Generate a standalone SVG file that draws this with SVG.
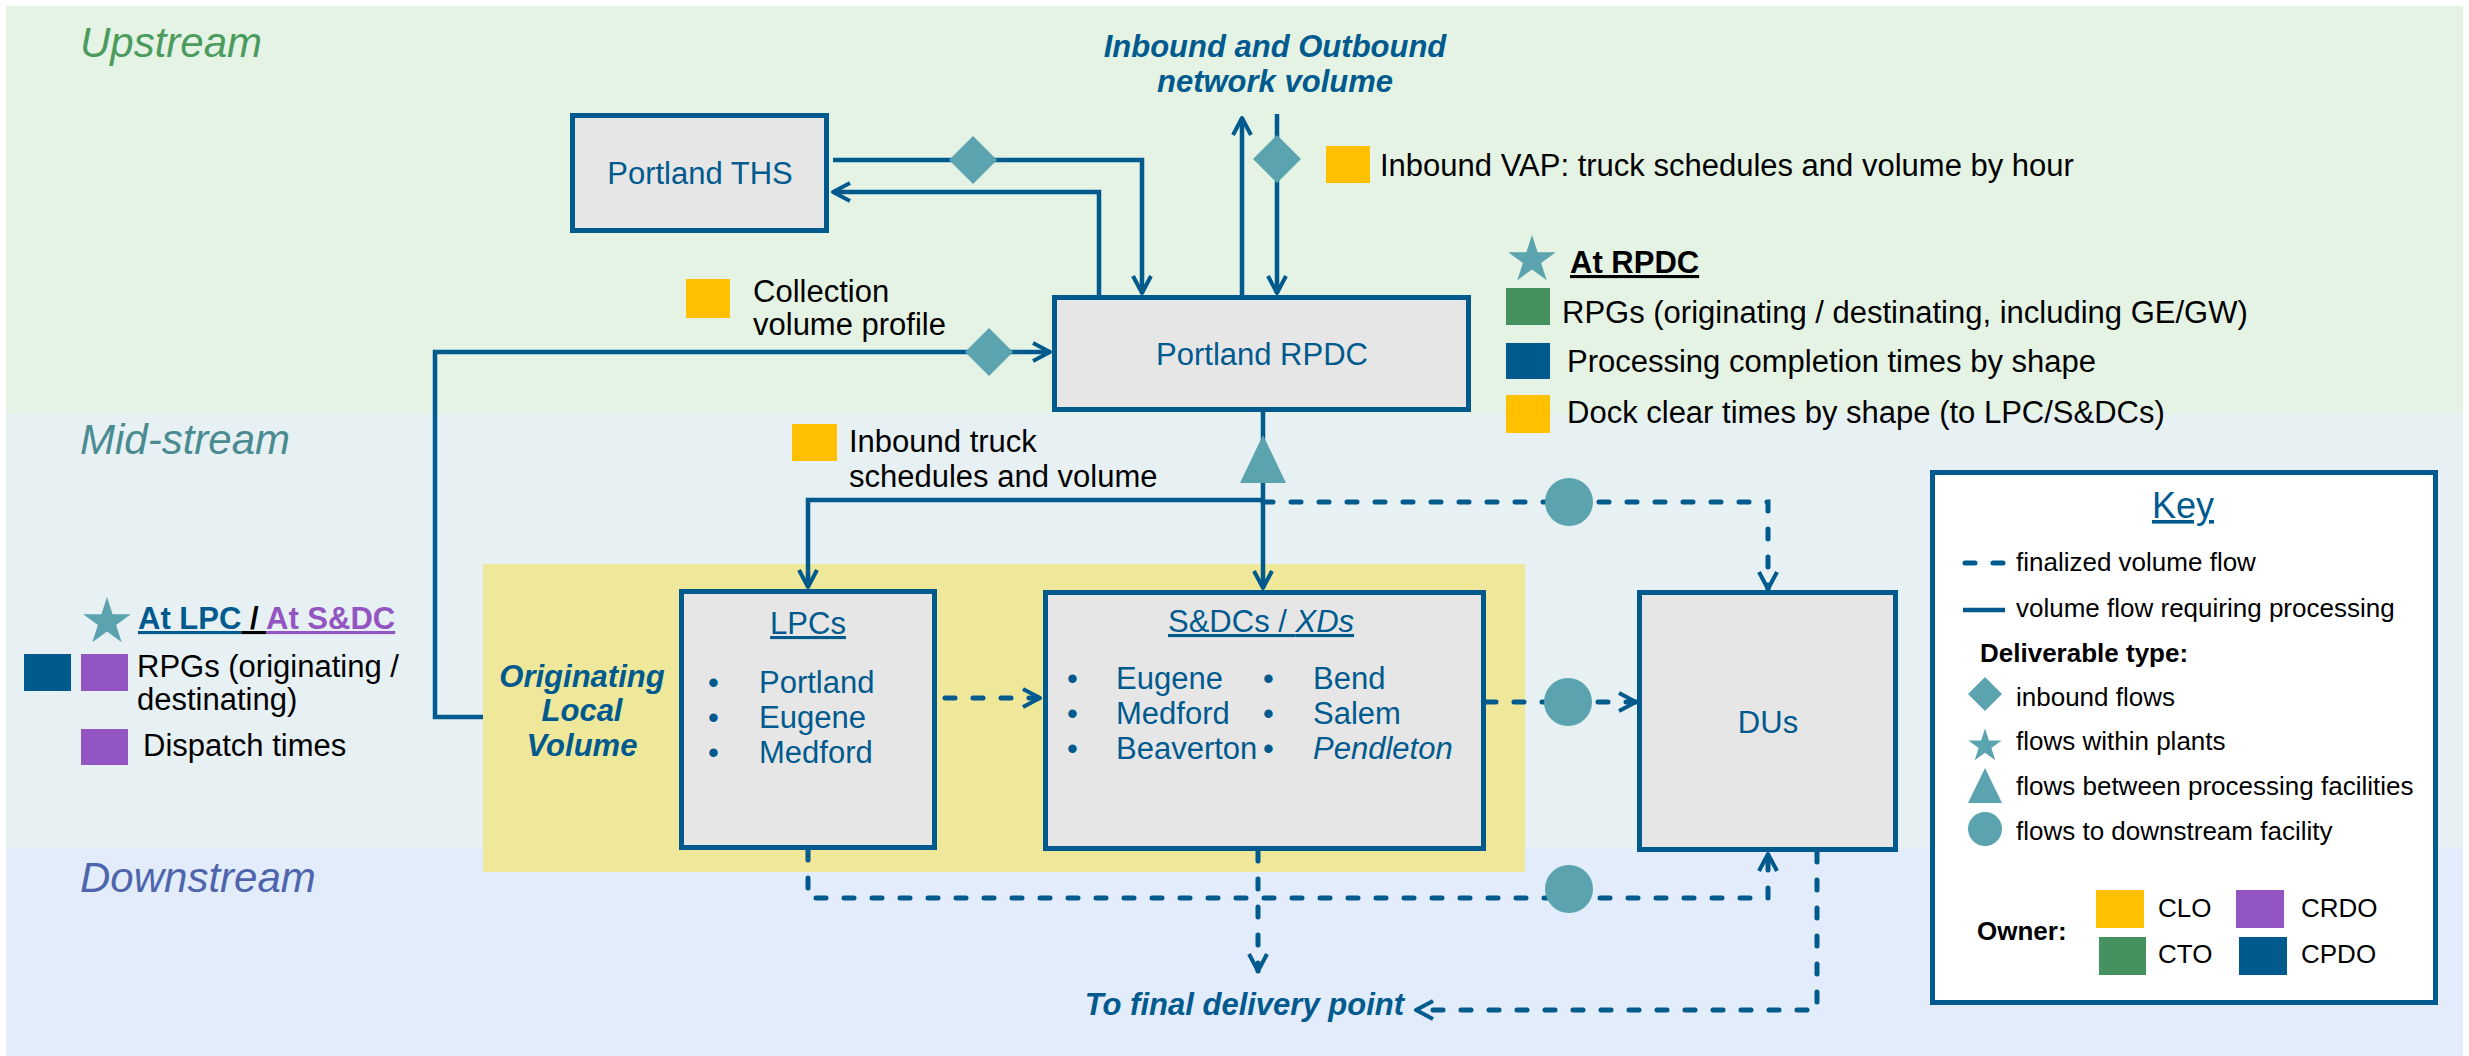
<svg xmlns="http://www.w3.org/2000/svg" width="2469" height="1056" viewBox="0 0 2469 1056">
<style>
text{font-family:"Liberation Sans",Arial,sans-serif;font-size:31px;fill:#000}
.band{font-size:42px;font-style:italic}
.blue{fill:#005a8e}
.bi{font-weight:bold;font-style:italic;fill:#005a8e}
.box{fill:#e6e6e6;stroke:#005a8e;stroke-width:5}
.solid{fill:none;stroke:#005a8e;stroke-width:4.5}
.dash{fill:none;stroke:#005a8e;stroke-width:5;stroke-dasharray:10 18;stroke-linecap:round}
.mk{fill:#5ba3ae}
.key{font-size:26px}
.yel{fill:#ffc000}.pur{fill:#9355c1}.grn{fill:#459160}.dbl{fill:#005a8e}
</style>
<defs>
<marker id="ah" viewBox="0 0 20 20" refX="18" refY="10" markerWidth="20" markerHeight="20" markerUnits="userSpaceOnUse" orient="auto" overflow="visible">
<path d="M1,1 L18,10 L1,19" fill="none" stroke="#005a8e" stroke-width="4" stroke-linejoin="round" stroke-dasharray="none"/>
</marker>
<path id="star" d="M0,-25 L5.61,-7.73 L23.78,-7.73 L9.08,2.95 L14.69,20.23 L0,9.55 L-14.69,20.23 L-9.08,2.95 L-23.78,-7.73 L-5.61,-7.73 Z"/>
<path id="dia" d="M0,-24 L24,0 L0,24 L-24,0 Z"/>
<path id="tri" d="M0,-24 L23,24 L-23,24 Z"/>
</defs>

<!-- bands -->
<rect x="6" y="6" width="2457" height="408" fill="#e5f3e4"/>
<rect x="6" y="414" width="2457" height="434" fill="#e7f0f3"/>
<rect x="6" y="848" width="2457" height="208" fill="#e2ecfa"/>
<text class="band" x="80" y="57" style="fill:#4b9b5e">Upstream</text>
<text class="band" x="80" y="454" style="fill:#4a8b91">Mid-stream</text>
<text class="band" x="80" y="892" style="fill:#4e65ad">Downstream</text>

<!-- originating local volume highlight -->
<rect x="483" y="564" width="1042" height="308" fill="#efe79a"/>

<!-- connectors -->
<g id="connectors">
<path class="solid" d="M833,160 H1142 V293" marker-end="url(#ah)"/>
<path class="solid" d="M1099,295 V192 H833" marker-end="url(#ah)"/>
<path class="solid" d="M1242,295 V118" marker-end="url(#ah)"/>
<path class="solid" d="M1277,114 V293" marker-end="url(#ah)"/>
<path class="solid" d="M483,717 H435 V352 H1050" marker-end="url(#ah)"/>
<path class="solid" d="M1263,412 V588" marker-end="url(#ah)"/>
<path class="solid" d="M1263,500 H808 V587" marker-end="url(#ah)"/>
<path class="dash" d="M1263,502 H1768 V589" marker-end="url(#ah)"/>
<path class="dash" d="M945,698 H1040" marker-end="url(#ah)"/>
<path class="dash" d="M1486,702 H1636" marker-end="url(#ah)"/>
<path class="dash" d="M808,850 V898 H1768 V854" marker-end="url(#ah)"/>
<path class="dash" d="M1258,851 V971" marker-end="url(#ah)"/>
<path class="dash" d="M1817,852 V1010 H1416" marker-end="url(#ah)"/>
<use href="#dia" class="mk" x="973" y="160"/>
<use href="#dia" class="mk" x="1277" y="159"/>
<use href="#dia" class="mk" x="989" y="352"/>
<use href="#tri" class="mk" x="1263" y="459"/>
<circle class="mk" cx="1569" cy="502" r="24"/>
<circle class="mk" cx="1568" cy="702" r="24"/>
<circle class="mk" cx="1569" cy="889" r="24"/>
</g>

<!-- nodes -->
<g id="ths">
<rect class="box" x="572.5" y="115.5" width="254" height="115"/>
<text class="blue" x="700" y="184" text-anchor="middle">Portland THS</text>
</g>
<g id="rpdc">
<rect class="box" x="1054.5" y="297.5" width="414" height="112"/>
<text class="blue" x="1262" y="365" text-anchor="middle">Portland RPDC</text>
</g>
<g id="lpcs">
<rect class="box" x="681.5" y="591.5" width="253" height="256"/>
<text class="blue" x="808" y="634" text-anchor="middle" text-decoration="underline">LPCs</text>
<text class="blue" x="708" y="693">•</text><text class="blue" x="759" y="693">Portland</text>
<text class="blue" x="708" y="728">•</text><text class="blue" x="759" y="728">Eugene</text>
<text class="blue" x="708" y="763">•</text><text class="blue" x="759" y="763">Medford</text>
</g>
<g id="sdcs">
<rect class="box" x="1045.5" y="592.5" width="438" height="256"/>
<text class="blue" x="1168" y="632" text-decoration="underline">S&amp;DCs / <tspan font-style="italic">XDs</tspan></text>
<text class="blue" x="1067" y="689">•</text><text class="blue" x="1116" y="689">Eugene</text>
<text class="blue" x="1067" y="724">•</text><text class="blue" x="1116" y="724">Medford</text>
<text class="blue" x="1067" y="759">•</text><text class="blue" x="1116" y="759">Beaverton</text>
<text class="blue" x="1263" y="689">•</text><text class="blue" x="1313" y="689">Bend</text>
<text class="blue" x="1263" y="724">•</text><text class="blue" x="1313" y="724">Salem</text>
<text class="blue" x="1263" y="759">•</text><text class="blue" x="1313" y="759" font-style="italic">Pendleton</text>
</g>
<g id="dus">
<rect class="box" x="1639.5" y="592.5" width="256" height="257"/>
<text class="blue" x="1768" y="733" text-anchor="middle">DUs</text>
</g>

<!-- labels -->
<g id="labels">
<text class="bi" x="1275" y="57" text-anchor="middle">Inbound and Outbound</text>
<text class="bi" x="1275" y="92" text-anchor="middle">network volume</text>
<rect class="yel" x="1326" y="146" width="44" height="37"/>
<text x="1380" y="176">Inbound VAP: truck schedules and volume by hour</text>
<rect class="yel" x="686" y="279" width="44" height="39"/>
<text x="753" y="302">Collection</text>
<text x="753" y="335">volume profile</text>
<rect class="yel" x="792" y="424" width="45" height="37"/>
<text x="849" y="452">Inbound truck</text>
<text x="849" y="487">schedules and volume</text>
<text class="bi" x="582" y="687" text-anchor="middle">Originating</text>
<text class="bi" x="582" y="721" text-anchor="middle">Local</text>
<text class="bi" x="582" y="756" text-anchor="middle">Volume</text>
<text class="bi" x="1404" y="1015" text-anchor="end">To final delivery point</text>
</g>

<g id="rpdc-legend">
<use href="#star" class="mk" x="1532" y="260"/>
<text x="1570" y="273" font-weight="bold" text-decoration="underline">At RPDC</text>
<rect class="grn" x="1506" y="288" width="44" height="37"/>
<text x="1562" y="323">RPGs (originating / destinating, including GE/GW)</text>
<rect class="dbl" x="1506" y="343" width="44" height="36"/>
<text x="1567" y="372">Processing completion times by shape</text>
<rect class="yel" x="1506" y="395" width="44" height="38"/>
<text x="1567" y="423">Dock clear times by shape (to LPC/S&amp;DCs)</text>
</g>

<g id="lpc-legend">
<use href="#star" class="mk" x="107" y="622"/>
<text x="138" y="629" font-weight="bold"><tspan style="fill:#005a8e" text-decoration="underline">At LPC</tspan><tspan text-decoration="underline"> / </tspan><tspan style="fill:#9355c1" text-decoration="underline">At S&amp;DC</tspan></text>
<rect class="dbl" x="24" y="654" width="47" height="37"/>
<rect class="pur" x="81" y="654" width="47" height="37"/>
<text x="137" y="677">RPGs (originating /</text>
<text x="137" y="710">destinating)</text>
<rect class="pur" x="81" y="729" width="47" height="36"/>
<text x="143" y="756">Dispatch times</text>
</g>

<g id="key">
<rect x="1932.5" y="472.5" width="503" height="530" fill="#fff" stroke="#005a8e" stroke-width="5"/>
<text x="2183" y="518" text-anchor="middle" class="blue" style="font-size:36px" text-decoration="underline">Key</text>
<path class="dash" d="M1965,563 H2004"/>
<path class="solid" d="M1963,610 H2005"/>
<text class="key" x="2016" y="571">finalized volume flow</text>
<text class="key" x="2016" y="617">volume flow requiring processing</text>
<text class="key" x="1980" y="662" font-weight="bold">Deliverable type:</text>
<path class="mk" d="M1985,677 L2002,694 L1985,711 L1968,694 Z"/>
<text class="key" x="2016" y="706">inbound flows</text>
<use href="#star" class="mk" transform="translate(1985,746) scale(0.7)"/>
<text class="key" x="2016" y="750">flows within plants</text>
<path class="mk" d="M1985,768 L2002,803 L1968,803 Z"/>
<text class="key" x="2016" y="795">flows between processing facilities</text>
<circle class="mk" cx="1985" cy="829" r="17"/>
<text class="key" x="2016" y="840">flows to downstream facility</text>
<text class="key" x="1977" y="940" font-weight="bold">Owner:</text>
<rect class="yel" x="2096" y="890" width="48" height="38"/>
<text class="key" x="2158" y="917">CLO</text>
<rect class="pur" x="2236" y="890" width="48" height="38"/>
<text class="key" x="2301" y="917">CRDO</text>
<rect class="grn" x="2099" y="937" width="47" height="38"/>
<text class="key" x="2158" y="963">CTO</text>
<rect class="dbl" x="2239" y="937" width="48" height="38"/>
<text class="key" x="2301" y="963">CPDO</text>
</g>
</svg>
